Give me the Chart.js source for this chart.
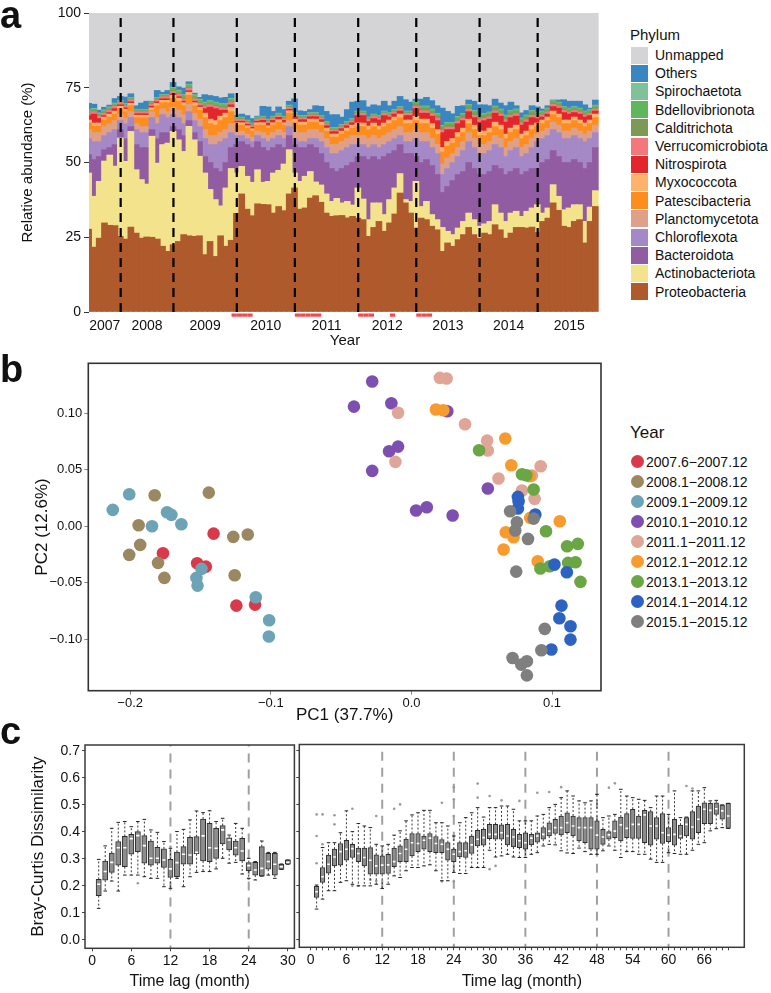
<!DOCTYPE html>
<html><head><meta charset="utf-8">
<script src="https://cdn.jsdelivr.net/npm/chart.js@4.4.1/dist/chart.umd.min.js"></script>
<style>
body{margin:0;background:#fff;width:771px;height:993px;position:relative;overflow:hidden;font-family:"Liberation Sans",Arial,sans-serif;color:#111}
canvas{position:absolute}
.plbl{position:absolute;font-weight:bold;font-size:38px;line-height:38px;left:0}
.lt{position:absolute;white-space:nowrap}
.sq{position:absolute;width:17px;height:17px}
.dot{position:absolute;width:13px;height:13px;border-radius:50%}
</style></head><body>
<canvas id="ca" width="615" height="350" style="left:0;top:0"></canvas>
<canvas id="cb" width="615" height="385" style="left:0;top:345px"></canvas>
<canvas id="cl" width="300" height="268" style="left:0;top:725px"></canvas>
<canvas id="cr" width="481" height="268" style="left:290px;top:725px"></canvas>
<div class="plbl" style="top:-4px">a</div>
<div class="plbl" style="top:350px">b</div>
<div class="plbl" style="top:712px">c</div>
<div id="legA"></div><div id="legB"></div>
<script>
// ---------- Panel a data (97 monthly samples, 2007.6-2015.12) ----------
const yearLabels = ['2007','2008','2009','2010','2011','2012','2013','2014','2015'];
const yearCenters = [2.5,10.5,21.5,33,44.5,56,67.5,79,90.5];
const yearBoundaries = [5.5,15.5,27.5,38.5,50.5,61.5,73.5,84.5];
const redMarks = [27,28,29,30,39,40,41,42,43,51,52,53,57,62,63,64];

const proteobacteria = [27.7,21.7,24.7,29.8,29.0,28.9, 25.3,24.4,28.4,26.4,24.7,25.1,25.0,24.4,22.0,20.3, 22.5,23.6,25.9,25.5,25.3,25.5,19.2,23.6,18.6,25.5,22.0,24.0, 33.0,39.5,34.4,32.2,36.2,36.0,35.9,33.1,35.3,33.9,39.5, 41.5,34.4,34.8,38.1,38.9,36.7,33.1,32.0,32.2,32.3,31.5,32.0, 31.4,30.9,25.3,28.3,30.3,27.0,29.8,32.8,39.8,36.5,33.1, 28.1,31.4,30.9,28.7,27.5,20.3,23.1,22.0,24.2,25.9,28.3,25.9, 24.7,26.4,25.9,29.2,27.5,24.7,26.4,28.3,28.3,28.1,28.4, 26.6,30.3,31.4,36.5,34.0,28.7,28.3,30.3,30.9,23.1,30.3,35.3];
const actinobacteriota = [18.8,17.0,19.0,20.7,23.5,19.9, 32.9,26.0,32.0,21.2,19.6,17.7,33.8,25.4,34.0,36.2, 37.9,34.0,27.8,36.6,32.3,26.6,27.3,17.4,19.0,10.0,19.5,24.0, 13.5,9.2,11.0,11.2,11.4,7.4,7.8,13.4,12.1,15.6,14.8, 5.0,9.3,10.6,8.9,4.6,5.8,6.4,5.0,5.8,4.2,5.5,3.8, 10.1,6.9,5.6,8.2,6.2,5.6,7.8,8.7,6.5,1.1,3.9, 15.6,3.9,6.1,3.9,3.4,8.0,3.9,3.9,3.9,4.4,4.8,5.0, 4.0,3.1,4.4,6.7,5.6,5.6,6.7,5.4,3.7,5.6,6.4, 9.3,2.8,3.4,6.1,4.7,5.5,6.5,5.6,5.0,7.2,4.8,5.3];
const bacteroidota = [6.1,12.3,8.3,3.8,2.5,7.2, 2.8,7.6,1.6,8.4,10.7,12.2,2.2,8.2,4.0,3.5, 1.6,3.4,5.3,1.9,2.4,4.9,5.5,9.0,10.4,11.5,8.5,7.0, 9.5,8.3,10.6,11.6,9.4,11.6,10.3,8.5,8.6,5.5,4.7, 9.5,11.3,9.6,9.0,11.5,10.5,10.5,11.0,9.0,11.5,12.0,14.2, 10.5,14.2,20.1,15.5,14.5,19.4,15.4,12.5,9.7,15.4,16.0, 8.3,14.7,14.0,16.4,15.1,11.7,15.0,18.1,17.9,16.7,16.9,17.1, 17.3,16.5,16.7,13.1,14.9,15.7,13.9,14.3,14.0,13.3,13.2, 12.1,16.9,16.2,11.4,13.3,15.8,15.2,15.1,14.1,17.7,14.9,14.4];
const chloroflexota = [5.4,6,5,4.7,5,5, 3,5,3,5,5,5,4,5,6,5, 4,4,4,3,4,5,6,6,8,10,8,5, 3,2,2,2,2,3,3,3,3,3,3, 2,2,2,2,3,4,5,5,6,6,6,6, 4,4,4,4,4,4,4,4,3,4,4, 6,7,6,6,7,6,6,6,6,7,7,7, 7,7,7,7,7,6,7,7,6,6,7, 9,8,8,7,8,8,8,8,8,9,8,5];
const planctomycetota = [3,3,3,3,3,3, 2,2,2,2,2,2,2,2,2,2, 2.5,2.5,3,2.5,2.5,2.5,3,3,3,3,3,3, 1.5,1.5,1.5,1.5,1.5,2,2,2,2,2,2, 3,3,3,3,3,3,3,3,3,3,3,3, 3,3,3,3,3,3,3,3,3,3,3, 3,3,3,3,3,3.5,3.5,3,3,3,3,3, 3,3,3,3,3,3,3,3,3,3,3, 2.5,2.5,2.5,2.5,2.5,2.5,2.5,2.5,2.5,2.5,2.5,2.5];
const patescibacteria = [2.2,2.2,2.2,2.2,2.2,2.2, 2,2,2,2,3,3,0.5,4,2,3, 3,3,3,3,2.5,3,4,4,3.5,4,4,4, 2,2,2,2,2,2.5,2.5,2.5,2.5,2.5,2.5, 2.5,2.5,2.5,2.5,2.5,2.5,2.5,2.5,2.5,2.5,2.5,2.5, 3,3,3,3,3,3,3,3,3,3,3, 3,3,3,3.5,3.5,4,4,3.5,3.5,3,3,3, 3,3,3,3,3,3,3,3,3,3,3, 2.5,2.5,2.5,2.5,2.5,2.5,2.5,2.5,2.5,2.5,2.5,2.5];
const myxococcota = [1,1,1,1,1,1, 0.8,0.8,0.8,0.8,0.8,0.8,0.8,0.8,0.8,0.8, 1,1,1,1,1,1,1.5,1.5,1.5,1.5,1.5,1.5, 0.8,0.8,0.8,0.8,0.8,0.8,0.8,0.8,0.8,0.8,0.8, 1,1,1,1,1,1,1,1,1,1,1,1, 1.2,1.2,1.2,1.2,1.2,1.2,1.2,1.2,1.2,1.2,1.2, 1.5,1.5,1.5,1.5,1.5,1.5,1.5,1.5,1.5,1.5,1.5,1.5, 1.5,1.5,1.5,1.5,1.5,1.5,1.5,1.5,1.5,1.5,1.5, 1.2,1.2,1.2,1.2,1.2,1.2,1.2,1.2,1.2,1.2,1.2,1.2];
const nitrospirota = [1.5,3,1.5,0.5,0.5,0.8, 0.5,0.5,0.5,0.5,0.5,0.5,0.5,0.5,0.5,0.5, 0.5,0.5,0.5,0.5,0.5,0.5,1.5,4,4,2,1,0.8, 0.5,0.5,0.5,0.5,0.5,0.8,0.8,0.8,0.8,0.8,0.5, 0.8,0.8,0.8,0.8,0.8,0.8,0.8,0.8,0.8,0.8,0.8,0.8, 2.5,2.5,1.5,1.5,2,2.5,1,1,1,1.5,1.5, 2.5,2,2,2.5,3,5,4,3,3,2.5,2.5,2.5, 3,3.5,3,3,3,4,3.5,3,3,3,2.5, 1.5,1,1,1.5,2,2.5,2,1.5,2,2,1.5,1];
const verrucomicrobiota = [0.8,0.8,0.8,0.8,0.8,0.8, 0.7,0.7,0.7,0.7,0.7,0.7,0.7,0.7,0.7,0.7, 0.8,0.8,0.8,0.8,0.8,0.8,0.8,0.8,0.8,0.8,0.8,0.8, 0.6,0.6,0.6,0.6,0.6,0.6,0.6,0.6,0.6,0.6,0.6, 0.6,0.6,0.6,0.6,0.6,0.6,0.6,0.6,0.6,0.6,0.6,0.6, 0.7,0.7,0.7,0.7,0.7,0.7,0.7,0.7,0.7,0.7,0.7, 0.8,0.8,0.8,0.8,0.8,0.8,0.8,0.8,0.8,0.8,0.8,0.8, 0.8,0.8,0.8,0.8,0.8,0.8,0.8,0.8,0.8,0.8,0.8, 0.7,0.7,0.7,0.7,0.7,0.7,0.7,0.7,0.7,0.7,0.7,0.7];
const calditrichota = [0.3,0.3,0.3,0.3,0.3,0.3, 0.2,0.2,0.2,0.2,0.2,0.2,0.2,0.2,0.2,0.2, 0.3,0.3,0.3,0.3,0.3,0.3,0.3,0.3,0.3,0.3,0.3,0.3, 0.2,0.2,0.2,0.2,0.2,0.2,0.2,0.2,0.2,0.2,0.2, 0.2,0.2,0.2,0.2,0.2,0.2,0.2,0.2,0.2,0.2,0.2,0.2, 0.2,0.2,0.2,0.2,0.2,0.2,0.2,0.2,0.2,0.2,0.2, 0.8,0.8,0.8,0.8,0.8,0.8,0.8,0.8,0.8,0.8,0.8,0.8, 0.8,0.8,0.8,0.8,0.8,0.8,0.8,0.8,0.8,0.8,0.8, 0.5,0.5,0.5,0.5,0.5,0.5,0.5,0.5,0.5,0.5,0.5,0.5];
const bdellovibrionota = [0.5,0.5,0.5,0.5,0.5,0.5, 0.4,0.4,0.4,0.4,0.4,0.4,0.4,0.4,0.4,0.4, 0.8,0.8,0.8,0.8,0.8,0.8,0.8,0.8,0.8,0.8,0.8,0.8, 0.4,0.4,0.4,0.4,0.4,0.4,0.4,0.4,0.4,0.4,0.4, 0.4,0.4,0.4,0.4,0.4,0.4,0.4,0.4,0.4,0.4,0.4,0.4, 0.4,0.4,0.4,0.4,0.4,0.4,0.4,0.4,0.4,0.4,0.4, 0.6,0.6,0.6,0.6,0.6,0.6,0.6,0.6,0.6,0.6,0.6,0.6, 0.6,0.6,0.6,0.6,0.6,0.6,0.6,0.6,0.6,0.6,0.6, 0.6,0.6,0.6,0.6,0.6,0.6,0.6,0.6,0.6,0.6,0.6,0.6];
const spirochaetota = [0.3,0.3,0.3,0.3,0.3,0.3, 0.2,0.2,0.2,0.2,0.2,0.2,0.2,0.2,0.2,0.2, 0.3,0.3,0.3,0.3,0.3,0.3,0.3,0.3,0.3,0.3,0.3,0.3, 0.2,0.2,0.2,0.2,0.2,0.2,0.2,0.2,0.2,0.2,0.2, 0.2,0.2,0.2,0.2,0.2,0.2,0.2,0.2,0.2,0.2,0.2,0.2, 0.2,0.2,0.2,0.2,0.2,0.2,0.2,0.2,0.2,0.2,0.2, 0.2,0.2,0.2,0.2,0.2,0.2,0.2,0.2,0.2,0.2,0.2,0.2, 0.2,0.2,0.2,0.2,0.2,0.2,0.2,0.2,0.2,0.2,0.2, 0.2,0.2,0.2,0.2,0.2,0.2,0.2,0.2,0.2,0.2,0.2,0.2];
const others = [2.2,1.4,0.9,0.9,0.6,1.5, 1.3,2.1,1.2,1.2,2.1,2.7,0.2,2.3,0.7,1.3, 1.6,1.1,2.2,0.8,0.5,0.6,2.5,1.7,1.9,1.9,2.1,1.5, 0.5,1.0,1.5,1.5,0.3,3.3,4.1,1.6,2.1,2.2,1.3, 4.6,1.6,1.4,1.0,2.3,3.1,3.4,4.3,4.3,2.5,4.0,5.5, 3.3,3.5,3.4,3.1,3.3,3.3,2.3,2.8,3.4,3.8,3.0, 0.8,2.3,2.9,2.8,2.6,5.8,3.7,2.9,3.4,2.6,1.5,3.1, 3.4,2.9,2.1,2.3,2.0,3.1,2.8,1.1,1.7,1.5,1.6, 1.9,0.7,0.8,0.2,0.7,2.3,2.3,1.8,2.3,2.1,0.5,1.7];
const unmapped = [30.2,30.5,32.5,31.5,30.8,28.6, 27.9,28.1,27.0,31.0,30.1,29.5,29.5,25.9,26.5,25.9, 23.2,24.7,25.1,23.0,26.8,28.2,27.3,27.6,27.9,28.4,28.2,27.0, 34.3,33.8,34.3,35.3,34.9,31.2,31.4,32.9,31.4,32.3,29.5, 28.7,32.7,32.9,32.3,31.0,31.2,32.9,34.0,34.0,34.8,32.3,29.8, 29.5,29.3,31.4,30.7,31.0,29.5,31.0,29.5,27.9,29.0,29.8, 28.8,28.8,28.2,29.3,31.0,31.8,32.9,33.7,31.2,31.0,30.4,29.5, 30.7,30.7,31.0,28.8,30.1,31.0,29.8,31.0,33.4,32.6,31.0, 31.4,32.1,31.0,29.1,29.1,29.0,29.5,29.5,29.5,30.7,31.8,29.1];

// ---------- Panel b data (PCoA) ----------
const yearGroups = ['2007.6\u22122007.12','2008.1\u22122008.12','2009.1\u22122009.12','2010.1\u22122010.12','2011.1\u22122011.12','2012.1\u22122012.12','2013.1\u22122013.12','2014.1\u22122014.12','2015.1\u22122015.12'];
const pts2007 = [[-0.1767,-0.0239],[-0.1524,-0.0327],[-0.1462,-0.0357],[-0.1407,-0.0065],[-0.1245,-0.0702],[-0.1112,-0.0693]];
const pts2008 = [[-0.1826,0.0274],[-0.1940,0.0009],[-0.1929,-0.0165],[-0.2007,-0.0253],[-0.1802,-0.0324],[-0.1757,-0.0457],[-0.1441,0.0298],[-0.1267,-0.0094],[-0.1164,-0.0073],[-0.1257,-0.0434]];
const pts2009 = [[-0.2124,0.0145],[-0.2007,0.0283],[-0.1845,0.0000],[-0.1738,0.0124],[-0.1707,0.0101],[-0.1636,0.0018],[-0.1529,-0.0457],[-0.1521,-0.0525],[-0.1493,-0.0377],[-0.1107,-0.0628],[-0.1012,-0.0832],[-0.1014,-0.0976]];
const pts2010 = [[-0.0409,0.1059],[-0.0279,0.1281],[-0.0143,0.1089],[-0.0159,0.0664],[-0.0095,0.0705],[-0.0279,0.0490],[0.0255,0.1018],[0.0033,0.0139],[0.0109,0.0168],[0.0293,0.0095],[0.0543,0.0334]];
const pts2011 = [[-0.0095,0.1004],[-0.0114,0.0570],[0.0202,0.1313],[0.0250,0.1307],[0.0381,0.0903],[0.0538,0.0758],[0.0543,0.0670],[0.0619,0.0422],[0.0919,0.0531],[0.0786,0.0316],[0.0876,0.0242],[0.0857,0.0449]];
const pts2012 = [[0.0174,0.1033],[0.0226,0.1027],[0.0667,0.0776],[0.0710,0.0540],[0.0840,0.0442],[0.0845,0.0074],[0.1055,0.0044],[0.0671,-0.0053],[0.0726,-0.0097],[0.0655,-0.0206],[0.0898,-0.0310]];
const pts2013 = [[0.0481,0.0673],[0.0786,0.0460],[0.0817,0.0451],[0.0869,0.0325],[0.0957,-0.0044],[0.1107,-0.0177],[0.1183,-0.0156],[0.1114,-0.0324],[0.1167,-0.0319],[0.0917,-0.0374],[0.0983,-0.0354],[0.1202,-0.0492]];
const pts2014 = [[0.0757,0.0260],[0.0762,0.0221],[0.0757,0.0157],[0.0881,0.0104],[0.1017,-0.0339],[0.1105,-0.0407],[0.1067,-0.0702],[0.1052,-0.0814],[0.1131,-0.0885],[0.0995,-0.1091],[0.1131,-0.1003]];
const pts2015 = [[0.0702,0.0133],[0.0750,0.0035],[0.0738,-0.0038],[0.0869,0.0068],[0.0829,-0.0112],[0.0745,-0.0401],[0.0948,-0.0908],[0.0924,-0.1097],[0.0719,-0.1165],[0.0821,-0.1195],[0.0781,-0.1224],[0.0821,-0.1319]];
const pcXTicks = [-0.2,-0.1,0.0,0.1];
const pcYTicks = [-0.10,-0.05,0.00,0.05,0.10];

// ---------- Panel c data (box plots of Bray-Curtis dissimilarity by time lag) ----------
const lagsL = [1,2,3,4,5,6,7,8,9,10,11,12,13,14,15,16,17,18,19,20,21,22,23,24,25,26,27,28,29,30];
const q3L = [.224,.292,.321,.364,.383,.391,.401,.386,.366,.343,.337,.298,.325,.345,.380,.382,.447,.431,.413,.423,.378,.366,.376,.286,.287,.345,.320,.320,.281,.296];
const q1L = [.164,.221,.250,.277,.271,.317,.327,.284,.277,.284,.268,.231,.234,.280,.280,.319,.292,.290,.302,.355,.333,.314,.292,.256,.240,.236,.262,.240,.261,.280];
const medL = [.206,.253,.287,.341,.341,.375,.386,.349,.302,.302,.296,.263,.286,.317,.314,.324,.385,.341,.339,.407,.370,.341,.329,.275,.259,.265,.290,.280,.271,.287];
const hiL = [.298,.348,.413,.435,.438,.419,.438,.446,.407,.398,.364,.339,.401,.409,.444,.477,.471,.478,.438,.450,.388,.431,.413,.302,.290,.366,.324,.324,.281,.296];
const loL = [.117,.181,.218,.181,.240,.240,.240,.234,.228,.228,.197,.191,.228,.197,.234,.250,.253,.253,.263,.302,.284,.287,.244,.228,.222,.236,.240,.228,.261,.280];
const outL = [[7,.210],[12,.345],[24,.226]];

const lagsR = [1,2,3,4,5,6,7,8,9,10,11,12,13,14,15,16,17,18,19,20,21,22,23,24,25,26,27,28,29,30,31,32,33,34,35,36,37,38,39,40,41,42,43,44,45,46,47,48,49,50,51,52,53,54,55,56,57,58,59,60,61,62,63,64,65,66,67,68,69,70];
const q3R = [.195,.265,.311,.333,.354,.366,.351,.337,.337,.339,.312,.308,.314,.337,.345,.370,.391,.391,.382,.391,.380,.369,.357,.333,.357,.357,.382,.403,.407,.425,.425,.423,.425,.407,.388,.394,.388,.394,.413,.431,.444,.456,.468,.456,.450,.450,.450,.438,.407,.398,.438,.452,.465,.481,.456,.477,.472,.450,.465,.413,.444,.422,.450,.472,.493,.505,.503,.505,.497,.503];
const q1R = [.154,.210,.244,.271,.274,.292,.302,.287,.271,.240,.240,.240,.243,.268,.287,.287,.308,.324,.333,.324,.320,.320,.292,.287,.304,.302,.317,.345,.348,.372,.370,.370,.349,.341,.339,.333,.349,.359,.370,.382,.391,.386,.394,.382,.364,.357,.333,.333,.351,.370,.376,.364,.376,.373,.373,.357,.348,.370,.354,.361,.348,.373,.382,.370,.394,.428,.428,.462,.444,.410];
const medR = [.175,.231,.277,.304,.324,.333,.335,.317,.302,.292,.271,.274,.275,.287,.317,.333,.357,.354,.366,.374,.354,.351,.333,.314,.324,.327,.349,.370,.376,.388,.388,.394,.382,.378,.364,.357,.374,.382,.388,.400,.413,.413,.431,.419,.413,.413,.413,.385,.378,.386,.400,.423,.410,.425,.425,.460,.419,.419,.394,.385,.388,.382,.425,.415,.444,.481,.477,.483,.475,.456];
const hiR = [.200,.339,.357,.357,.394,.475,.398,.428,.419,.413,.351,.345,.351,.385,.401,.438,.460,.468,.477,.477,.431,.431,.419,.382,.431,.450,.468,.487,.452,.487,.487,.493,.493,.481,.438,.438,.438,.456,.462,.487,.499,.524,.549,.530,.512,.505,.512,.536,.450,.456,.462,.555,.530,.524,.518,.514,.487,.530,.530,.462,.549,.450,.452,.549,.549,.561,.512,.514,.497,.503];
const loR = [.111,.148,.179,.179,.210,.216,.203,.197,.197,.197,.203,.187,.203,.234,.228,.253,.265,.265,.271,.275,.253,.216,.216,.247,.243,.243,.265,.265,.265,.329,.304,.308,.314,.304,.302,.302,.314,.320,.345,.351,.349,.327,.319,.317,.337,.324,.314,.314,.327,.345,.329,.302,.324,.324,.314,.314,.296,.284,.284,.320,.317,.314,.314,.329,.351,.357,.401,.409,.413,.410];
const outR = [[1,.462],[1,.382],[1,.281],[2,.462],[2,.351],[4,.459],[4,.425],[7,.483],[11,.456],[14,.483],[15,.499],[22,.505],[24,.563],[24,.518],[24,.456],[28,.576],[28,.524],[30,.530],[32,.514],[35,.512],[38,.542],[40,.545],[42,.563],[48,.539],[50,.561],[51,.577],[63,.567],[64,.558],[7,.197],[8,.197],[22,.213],[24,.213],[30,.259],[31,.271],[11,.215],[10,.220]];
const vLinesL = [12,24];
const vLinesR = [12,24,36,48,60];
const bcYTicks = [0,0.1,0.2,0.3,0.4,0.5,0.6,0.7];
const lagTicksL = [0,6,12,18,24,30];
const lagTicksR = [0,1,2,3,4,5,6,7,8,9,10,11,12,13,14,15,16,17,18,19,20,21,22,23,24,25,26,27,28,29,30,31,32,33,34,35,36,37,38,39,40,41,42,43,44,45,46,47,48,49,50,51,52,53,54,55,56,57,58,59,60,61,62,63,64,65,66,67,68,69,70];
const lagLabelStep = 6;

// ---------- styles ----------
const FONT = '"Liberation Sans", Arial, sans-serif';
Chart.defaults.font.family = FONT;
Chart.defaults.color = '#111';

const phyla = [
  ['Proteobacteria', proteobacteria, '#AF5A2C'],
  ['Actinobacteriota', actinobacteriota, '#F3E38C'],
  ['Bacteroidota', bacteroidota, '#925CA3'],
  ['Chloroflexota', chloroflexota, '#A588C6'],
  ['Planctomycetota', planctomycetota, '#DFA08A'],
  ['Patescibacteria', patescibacteria, '#FD8D1F'],
  ['Myxococcota', myxococcota, '#FDB36C'],
  ['Nitrospirota', nitrospirota, '#E3262B'],
  ['Verrucomicrobiota', verrucomicrobiota, '#F3787D'],
  ['Calditrichota', calditrichota, '#7C9A53'],
  ['Bdellovibrionota', bdellovibrionota, '#5FB65B'],
  ['Spirochaetota', spirochaetota, '#7EC19B'],
  ['Others', others, '#3A86C1'],
  ['Unmapped', unmapped, '#D4D4D6']
];
const yearColors = ['#D93A4B','#9C8860','#6CA3B6','#7D4FB1','#DFA597','#F89B2F','#6BA644','#2C63C3','#7F7F7F'];
const ptsAll = [pts2007,pts2008,pts2009,pts2010,pts2011,pts2012,pts2013,pts2014,pts2015];

function fmtSigned(v, d){ return (v < 0 ? '\u2212' : '') + Math.abs(v).toFixed(d); }
function vlinePoints(vals, lo, hi){ const a=[]; vals.forEach(v=>{a.push({x:v,y:lo},{x:v,y:hi},{x:v,y:null});}); return a; }

const framePlugin = { id:'frame', afterDatasetsDraw(chart, args, o){ const a=chart.chartArea, c=chart.ctx; c.save(); c.strokeStyle=o.color||'#333'; c.lineWidth=o.width||1.5; c.strokeRect(a.left,a.top,a.right-a.left,a.bottom-a.top); c.restore(); } };

// ---------- Panel a ----------
const sampleLabels = proteobacteria.map((_, i) => 'S' + (i + 1));
const redMarkPlugin = { id:'redMarks', afterDraw(chart){ const xs=chart.scales.x, c=chart.ctx; const w=(xs.right-xs.left)/sampleLabels.length; c.save(); c.fillStyle='#F4484D'; redMarks.forEach(i=>{ const p=xs.getPixelForValue(i); c.fillRect(p-w/2, chart.chartArea.bottom+1.5, w, 3.2); }); c.restore(); } };
new Chart(document.getElementById('ca'), {
  type:'bar',
  data:{ labels: sampleLabels, datasets: [
    ...phyla.map(([name, vals, col]) => ({ label:name, data:vals, backgroundColor:col, borderWidth:0, barThickness:6, xAxisID:'x', yAxisID:'y', stack:'s', order:1 })),
    { type:'line', label:'year boundary', data: vlinePoints(yearBoundaries, 0, 100), xAxisID:'x2', yAxisID:'y', stack:'lines', borderColor:'#000', borderWidth:2.2, borderDash:[9,6], pointRadius:0, spanGaps:false, order:0 }
  ]},
  options:{ responsive:false, animation:false,
    layout:{ padding:{ left:0, right:14, top:13, bottom:0 } },
    plugins:{ legend:{display:false}, tooltip:{enabled:false} },
    scales:{
      x:{ display:false, stacked:true },
      x2:{ type:'linear', position:'bottom', min:-0.5, max:96.5, offset:false,
        grid:{display:false, drawTicks:false}, border:{display:false},
        afterBuildTicks:s=>{ s.ticks = yearCenters.map(v=>({value:v})); },
        afterFit:s=>{ s.height = 38; },
        ticks:{ callback:(v,i)=>yearLabels[i], autoSkip:false, maxRotation:0, padding:6, font:{size:14}, color:'#111' },
        title:{ display:true, text:'Year', font:{size:15}, color:'#111', padding:{top:0,bottom:0} } },
      y:{ stacked:true, min:0, max:100,
        afterBuildTicks:s=>{ s.ticks=[0,25,50,75,100].map(v=>({value:v})); },
        afterFit:s=>{ s.width = 89; },
        grid:{ drawOnChartArea:false, tickLength:5, color:'#333', lineWidth:1 }, border:{display:false},
        ticks:{ padding:3, font:{size:14}, color:'#111' },
        title:{ display:true, text:'Relative abundance (%)', font:{size:15}, color:'#111', padding:{top:19,bottom:0} } }
    } },
  plugins:[redMarkPlugin]
});

// ---------- Panel b ----------
new Chart(document.getElementById('cb'), {
  type:'scatter',
  data:{ datasets: ptsAll.map((pts,k)=>({ label:yearGroups[k], data:pts.map(p=>({x:p[0], y:p[1]})), backgroundColor:yearColors[k], borderWidth:0, pointRadius:6.3, order:9-k })) },
  options:{ responsive:false, animation:false,
    layout:{ padding:{ left:0, right:14, top:18.3, bottom:0 } },
    plugins:{ legend:{display:false}, tooltip:{enabled:false}, frame:{color:'#333', width:1.6} },
    scales:{
      x:{ type:'linear', min:-0.2298, max:0.1348,
        afterBuildTicks:s=>{ s.ticks = pcXTicks.map(v=>({value:v})); },
        afterFit:s=>{ s.height = 39.3; },
        grid:{ drawOnChartArea:false, tickLength:4, color:'#888' }, border:{display:false},
        ticks:{ callback:v=>fmtSigned(v,1), padding:1, font:{size:13}, color:'#111', maxRotation:0 },
        title:{ display:true, text:'PC1 (37.7%)', font:{size:17}, color:'#111', padding:{top:0,bottom:4} } },
      y:{ type:'linear', min:-0.1455, max:0.1442,
        afterBuildTicks:s=>{ s.ticks = pcYTicks.map(v=>({value:v})); },
        afterFit:s=>{ s.width = 88.3; },
        grid:{ drawOnChartArea:false, tickLength:4, color:'#888' }, border:{display:false},
        ticks:{ callback:v=>fmtSigned(v,2), padding:2, font:{size:13}, color:'#111' },
        title:{ display:true, text:'PC2 (12.6%)', font:{size:17}, color:'#111', padding:{top:32,bottom:0} } }
    } },
  plugins:[framePlugin]
});

// ---------- Panel c ----------
function boxChart(canvasId, lags, q1, med, q3, lo, hi, outs, vlines, xTicks, cfg){
  const boxes = lags.map((l,i)=>({x:l, y:[q1[i], q3[i]]}));
  const whisk = []; lags.forEach((l,i)=>{ whisk.push({x:l,y:q3[i]},{x:l,y:hi[i]},{x:l,y:null},{x:l,y:q1[i]},{x:l,y:lo[i]},{x:l,y:null}); });
  const caps = []; lags.forEach((l,i)=>{ caps.push({x:l,y:hi[i]},{x:l,y:lo[i]}); });
  const meds = lags.map((l,i)=>({x:l, y:med[i]}));
  const outPts = outs.map(o=>({x:o[0], y:o[1]}));
  return new Chart(document.getElementById(canvasId), {
    type:'bar',
    data:{ datasets:[
      { type:'line', label:'period', data:vlinePoints(vlines, -1, 2), borderColor:'#A0A0A0', borderWidth:2, borderDash:[9,7], pointRadius:0, spanGaps:false, order:10, clip:0 },
      { type:'line', label:'outliers', data:outPts, showLine:false, pointRadius:1.3, pointBackgroundColor:'#9a9a9a', pointBorderWidth:0, order:6 },
      { type:'line', label:'whiskers', data:whisk, borderColor:'#222', borderWidth:0.9, borderDash:[2,2], pointRadius:0, spanGaps:false, order:5 },
      { type:'bar', label:'IQR', data:boxes, backgroundColor:'#8D8D8D', borderColor:'#2E2E2E', borderWidth:1, borderSkipped:false, barThickness:cfg.boxW, order:3 },
      { type:'line', label:'caps', data:caps, showLine:false, pointStyle:'line', pointRadius:1.8, pointBorderColor:'#222', pointBorderWidth:1, order:2 },
      { type:'line', label:'median', data:meds, showLine:false, pointStyle:'line', pointRadius:cfg.boxW/2-1, pointBorderColor:'#ffffff', pointBorderWidth:1.6, order:1 }
    ]},
    options:{ responsive:false, animation:false,
      layout:{ padding:{ left:0, right:cfg.right, top:cfg.top, bottom:0 } },
      plugins:{ legend:{display:false}, tooltip:{enabled:false}, frame:{color:'#3a3a3a', width:1.5} },
      scales:{
        x:{ type:'linear', min:cfg.xmin, max:cfg.xmax, offset:false,
          afterBuildTicks:s=>{ s.ticks = xTicks.map(v=>({value:v})); },
          afterFit:s=>{ s.height = cfg.xh; },
          grid:{ drawOnChartArea:false, offset:false, tickLength:3, color:'#444' }, border:{display:false},
          ticks:{ callback:v=>(v % lagLabelStep === 0 ? String(v) : ''), autoSkip:false, maxRotation:0, padding:1, font:{size:14}, color:'#111' },
          title:{ display:true, text:'Time lag (month)', font:{size:16}, color:'#111', padding:{top:0,bottom:1.5} } },
        y:{ type:'linear', min:-0.0307, max:0.721,
          afterBuildTicks:s=>{ s.ticks = bcYTicks.map(v=>({value:v})); },
          afterFit:s=>{ s.width = cfg.yw; },
          grid:{ drawOnChartArea:false, tickLength:3, color:'#444' }, border:{display:false},
          ticks:{ display:cfg.yLabels, callback:v=>v.toFixed(1), padding:2, font:{size:14}, color:'#111' },
          title:{ display:cfg.yLabels, text:'Bray-Curtis Dissimilarity', font:{size:17}, color:'#111', padding:{top:28,bottom:0} } }
      } },
    plugins:[framePlugin]
  });
}
boxChart('cl', lagsL, q1L, medL, q3L, loL, hiL, outL, vLinesL, lagTicksL, { boxW:5.2, right:5, top:20, xmin:-1.1, xmax:31.0, xh:44.7, yw:85, yLabels:true });
boxChart('cr', lagsR, q1R, medR, q3R, loR, hiR, outR, vLinesR, lagTicksR, { boxW:4.6, right:26.7, top:19.5, xmin:-1.9, xmax:72.7, xh:45.7, yw:9.3, yLabels:false });

// ---------- Legends ----------
(function(){
  const la = document.getElementById('legA');
  let h = '<div class="lt" style="left:630px;top:26px;font-size:15px;line-height:18px">Phylum</div>';
  phyla.slice().reverse().forEach(([name,,col],k)=>{
    const cy = 55 + 18.2*k;
    h += '<div class="sq" style="left:631px;top:'+(cy-8.5)+'px;background:'+col+'"></div>';
    h += '<div class="lt" style="left:655px;top:'+(cy-8)+'px;font-size:14px;line-height:16px">'+name+'</div>';
  });
  la.innerHTML = h;
  const lb = document.getElementById('legB');
  let g = '<div class="lt" style="left:630px;top:423px;font-size:17px;line-height:20px">Year</div>';
  yearGroups.forEach((name,k)=>{
    const cy = 461.7 + 20*k;
    g += '<div class="dot" style="left:'+(637-6.5)+'px;top:'+(cy-6.5)+'px;background:'+yearColors[k]+'"></div>';
    g += '<div class="lt" style="left:646px;top:'+(cy-8)+'px;font-size:14px;line-height:16px">'+name+'</div>';
  });
  lb.innerHTML = g;
})();
</script>
</body></html>
